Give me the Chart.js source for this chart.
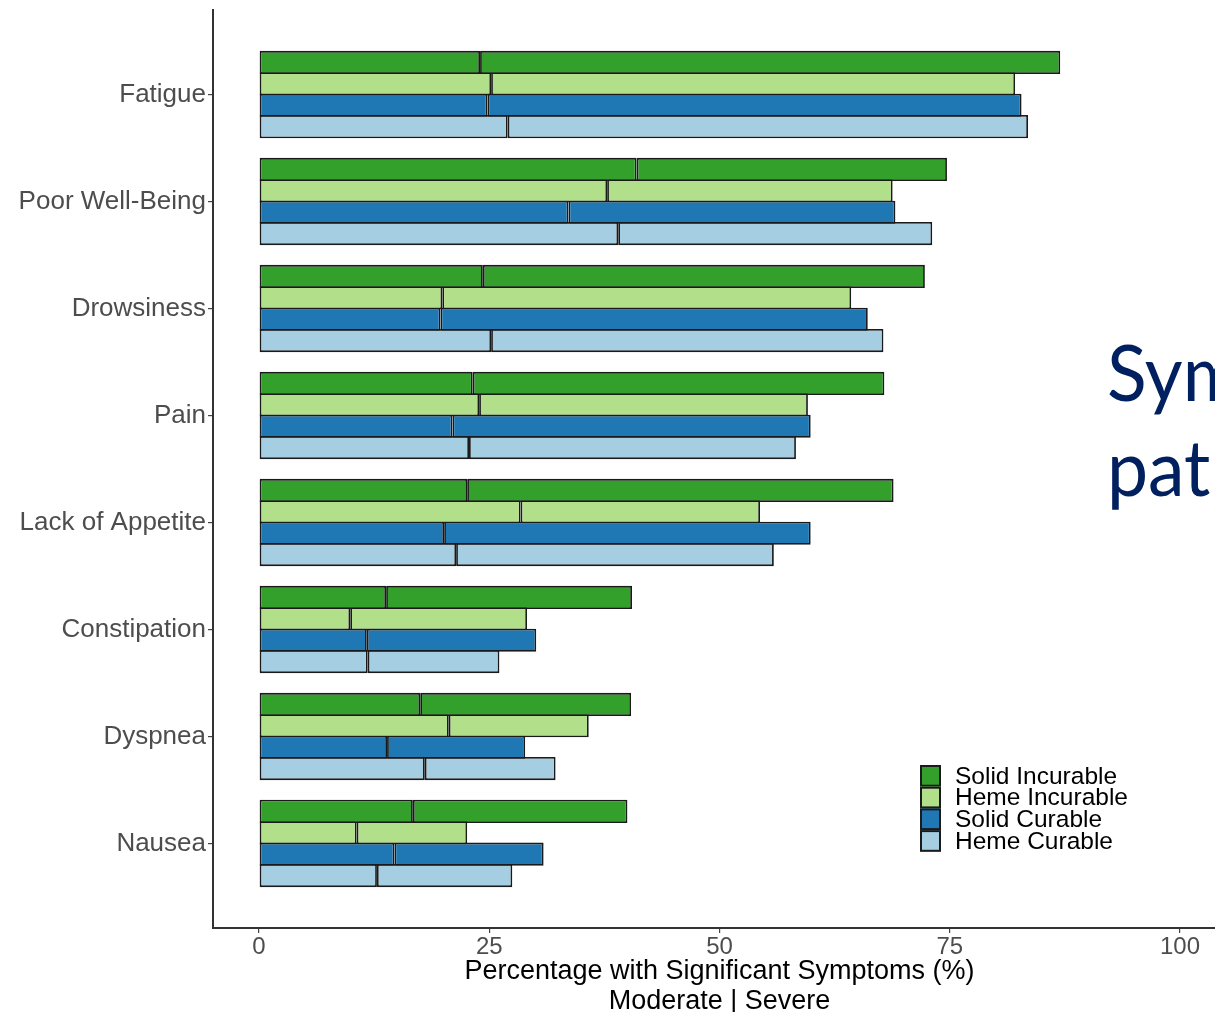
<!DOCTYPE html>
<html>
<head>
<meta charset="utf-8">
<script src="https://cdn.jsdelivr.net/npm/chart.js@4.4.1/dist/chart.umd.min.js"></script>
<style>
  html, body { margin: 0; padding: 0; background: #fff; overflow: hidden; width: 1215px; height: 1012px; }
  #wrap { position: relative; width: 1215px; height: 1012px; overflow: hidden; }
  canvas { position: absolute; left: 0; top: 0; }
  .slide-text { position: absolute; left: 1107px; font-family: Lato, "Open Sans", sans-serif; font-size: 78px; line-height: 1; color: #002060; white-space: nowrap; transform: scaleX(0.94); transform-origin: left top; }
</style>
</head>
<body>
<div id="wrap">
  <canvas id="symptomChart" width="1240" height="1012"></canvas>
  <div class="slide-text" style="top:332px">Sym</div>
  <div class="slide-text" style="top:427px">pat</div>
</div>
<script>
// symptom categories, top to bottom
const categories = ["Fatigue", "Poor Well-Being", "Drowsiness", "Pain", "Lack of Appetite", "Constipation", "Dyspnea", "Nausea"];
const seriesNames = ["Solid Incurable", "Heme Incurable", "Solid Curable", "Heme Curable"];
const seriesColors = ["#33a02c", "#b2df8a", "#1f78b4", "#a6cee3"];
const xTicks = [0, 25, 50, 75, 100];

// moderate part (left of the split) and severe part (right of the split), in %
const solidIncurableModerate = [24.0, 41.0, 24.3, 23.2, 22.6, 13.8, 17.5, 16.7];
const solidIncurableSevere   = [63.0, 33.7, 48.0, 44.7, 46.3, 26.7, 22.9, 23.3];
const hemeIncurableModerate  = [25.2, 37.8, 19.9, 23.9, 28.4, 9.9, 20.6, 10.6];
const hemeIncurableSevere    = [56.9, 31.0, 44.4, 35.7, 26.0, 19.2, 15.2, 12.0];
const solidCurableModerate   = [24.8, 33.6, 19.7, 21.0, 20.1, 11.7, 13.9, 14.7];
const solidCurableSevere     = [58.0, 35.5, 46.4, 38.9, 39.8, 18.4, 15.0, 16.2];
const hemeCurableModerate    = [27.0, 39.0, 25.2, 22.8, 21.4, 11.8, 18.0, 12.8];
const hemeCurableSevere      = [56.5, 34.1, 42.6, 35.5, 34.5, 14.3, 14.2, 14.7];

const moderateBySeries = [solidIncurableModerate, hemeIncurableModerate, solidCurableModerate, hemeCurableModerate];
const severeBySeries = [solidIncurableSevere, hemeIncurableSevere, solidCurableSevere, hemeCurableSevere];

const FONT = '"Liberation Sans", Arial, Helvetica, sans-serif';

function toPoints(values) {
  return values.map((v, i) => ({ x: v, y: i }));
}

const datasets = [];
seriesNames.forEach((name, s) => {
  const common = {
    stack: name,
    backgroundColor: seriesColors[s],
    borderColor: "#1a1a1a",
    borderWidth: 1.8,
    borderSkipped: false,
    categoryPercentage: 0.8,
    // slightly over 1 so neighbouring bars share one outline
    barPercentage: 1.08,
  };
  datasets.push(Object.assign({ label: name, data: toPoints(moderateBySeries[s]) }, common));
  datasets.push(Object.assign({ label: name + " (severe)", data: toPoints(severeBySeries[s]) }, common));
});

// legend drawn inside the plot, boxes stacked with no gap
const boxLegend = {
  id: "boxLegend",
  afterDraw(chart) {
    const ctx = chart.ctx;
    const x0 = 920, y0 = 765, w = 21, h = 21.7;
    ctx.save();
    seriesNames.forEach((name, i) => {
      const y = y0 + i * h;
      ctx.fillStyle = seriesColors[i];
      ctx.fillRect(x0, y, w, h);
      ctx.strokeStyle = "#1a1a1a";
      ctx.lineWidth = 2;
      ctx.strokeRect(x0 + 1, y + 1, w - 2, h - 2);
      ctx.fillStyle = "#000";
      ctx.font = "24.5px " + FONT;
      ctx.textBaseline = "middle";
      ctx.textAlign = "left";
      ctx.fillText(name, x0 + 35, y + h / 2 + 1);
    });
    ctx.restore();
  }
};

new Chart(document.getElementById("symptomChart"), {
  type: "bar",
  data: { datasets: datasets },
  options: {
    indexAxis: "y",
    responsive: false,
    animation: false,
    devicePixelRatio: 1,
    layout: { padding: { top: 10, right: 14, left: 0, bottom: 0 } },
    plugins: {
      legend: { display: false },
      tooltip: { enabled: false },
    },
    scales: {
      x: {
        type: "linear",
        stacked: true,
        min: -5,
        max: 105,
        afterBuildTicks: (axis) => { axis.ticks = xTicks.map((v) => ({ value: v })); },
        afterFit: (axis) => { axis.height = 84; },
        grid: { drawOnChartArea: false, drawTicks: true, tickLength: 5, color: "#444", lineWidth: 1.2 },
        border: { display: true, color: "#333", width: 2 },
        ticks: { color: "#4d4d4d", font: { family: FONT, size: 24 }, padding: 0, maxRotation: 0 },
        title: {
          display: true,
          text: ["Percentage with Significant Symptoms (%)", "Moderate | Severe"],
          color: "#000",
          font: { family: FONT, size: 27, lineHeight: 1.1 },
          padding: { top: 0, bottom: -4 },
        },
      },
      y: {
        type: "linear",
        reverse: true,
        offset: false,
        min: -0.79,
        max: 7.79,
        afterBuildTicks: (axis) => { axis.ticks = categories.map((c, i) => ({ value: i })); },
        afterFit: (axis) => {
          axis.width = 213;
          axis.paddingTop = 0;
          axis.paddingBottom = 0;
        },
        grid: { offset: false, drawOnChartArea: false, drawTicks: true, tickLength: 5, color: "#444", lineWidth: 1.2 },
        border: { display: true, color: "#333", width: 2 },
        ticks: {
          color: "#4d4d4d",
          font: { family: FONT, size: 26 },
          padding: 2,
          autoSkip: false,
          callback: (value) => categories[value],
        },
      },
    },
  },
  plugins: [boxLegend],
});
</script>
</body>
</html>
